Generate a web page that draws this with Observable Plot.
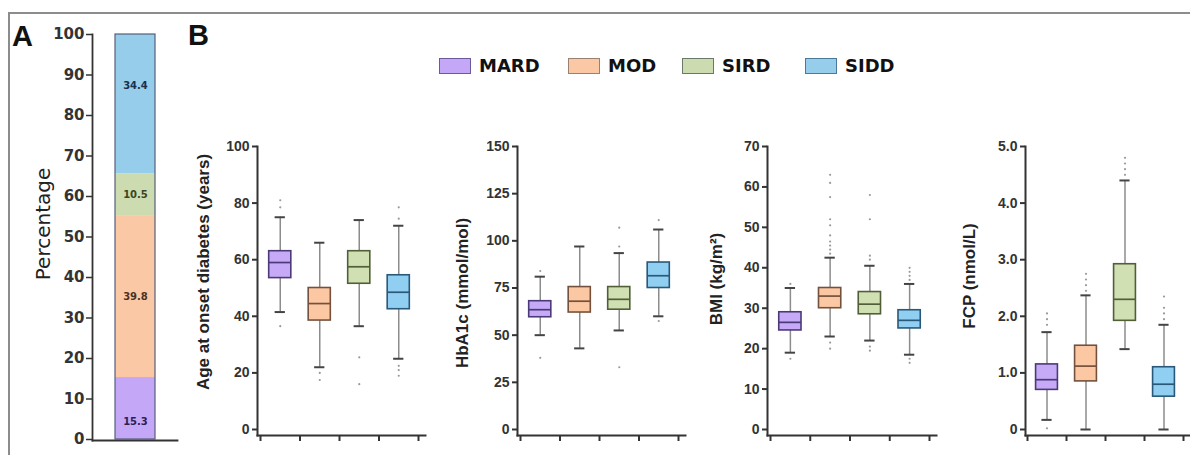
<!DOCTYPE html>
<html><head><meta charset="utf-8">
<script src="https://cdn.jsdelivr.net/npm/d3@7"></script>
<script src="https://cdn.jsdelivr.net/npm/@observablehq/plot@0.6"></script>
<style>
body{margin:0;background:#fff;}
#root{position:relative;width:1190px;height:455px;overflow:hidden;background:#fff;font-family:"Liberation Sans",Arial,sans-serif;}
.frame{position:absolute;left:8px;top:12px;width:1200px;height:460px;border-left:2px solid #8c8c8c;border-top:2px solid #8c8c8c;box-sizing:border-box;}
.letter{position:absolute;font-family:"Liberation Sans",Arial,sans-serif;font-weight:bold;font-size:29px;line-height:1;color:#111;}
.ytitle{position:absolute;white-space:nowrap;transform:translate(-50%,-50%) rotate(-90deg);font-weight:bold;font-size:17px;line-height:1.1;color:#222;}
.sw{position:absolute;width:32px;height:16px;top:58px;box-sizing:border-box;border:1.5px solid;}
.lt{position:absolute;top:55px;font-family:"DejaVu Sans",sans-serif;font-weight:bold;font-size:18px;line-height:22px;color:#111;}
.plot{position:absolute;}
</style></head><body><div id="root"></div>
<script>
// ---------- data ----------
const groups = ["MARD", "MOD", "SIRD", "SIDD"];
const sharePct = [15.3, 39.8, 10.5, 34.4];

// box stats per group: [lower whisker, Q1, median, Q3, upper whisker]
const ageStats = [[41.5, 53.5, 59, 63, 75], [22, 38.5, 44.5, 50, 66], [36.5, 51.5, 57.5, 63, 74], [25, 42.5, 48.5, 54.5, 72]];
const ageOutliers = [[81, 78.5, 36.5], [20, 17.5], [25.5, 16], [78.5, 74.5, 22.5, 21, 19]];
const ageTicks = [0, 20, 40, 60, 80, 100];

const hbStats = [[50, 59.5, 63.5, 68, 81], [43, 62, 68, 75.5, 97], [52.5, 63.5, 69, 75.5, 93.5], [60, 75, 81.5, 88.5, 106]];
const hbOutliers = [[84, 38], [], [107, 97, 33], [111, 57.5]];
const hbTicks = [0, 25, 50, 75, 100, 125, 150];

const bmiStats = [[19, 24.5, 26.5, 29, 35], [23, 30, 33, 35, 42.5], [22, 28.5, 31, 34, 40.5], [18.5, 25, 27, 29.5, 36]];
const bmiOutliers = [[36, 17.5], [63, 61, 57.5, 52, 50.5, 48, 46.5, 45.5, 44.5, 43.5, 21.5, 20], [58, 52, 43, 42, 20.5, 19.5], [40, 39, 38, 37, 17.5, 16.5]];
const bmiTicks = [0, 10, 20, 30, 40, 50, 60, 70];

const fcpStats = [[0.17, 0.7, 0.88, 1.15, 1.72], [0, 0.85, 1.12, 1.48, 2.37], [1.42, 1.92, 2.3, 2.92, 4.4], [0, 0.58, 0.8, 1.1, 1.85]];
const fcpOutliers = [[2.05, 1.95, 1.85, 0.02], [2.75, 2.65, 2.55, 2.45], [4.8, 4.7, 4.6, 4.5], [2.35, 2.15, 2.05, 1.95]];
const fcpTicks = [0, 1, 2, 3, 4, 5];

// ---------- styles ----------
const fills = ["#c6aaf7", "#fcc8a4", "#d0e0b2", "#90cff1"];
const aFills = ["#c4a7f7", "#fbc8a6", "#cddbb0", "#95cdea"];
const strokes = ["#4a3b78", "#74513c", "#505f38", "#2a5878"];
const swatchBorders = ["#6a5a9a", "#9a8070", "#6a7a6a", "#4a7a9a"];
const labelInk = ["#2a1f55", "#4a3322", "#3c4622", "#1d2f4a"];
const labelDy = [13, 0, 0, -18];
const axisInk = "#333";

const root = document.getElementById("root");
function add(html) { root.insertAdjacentHTML("beforeend", html); }
function place(svg, left, top) { svg.classList.add("plot"); svg.style.left = left + "px"; svg.style.top = top + "px"; root.appendChild(svg); }

add('<div class="frame"></div>');
add('<div class="letter" style="left:12px;top:22px">A</div>');
add('<div class="letter" style="left:188px;top:21px">B</div>');

// ---------- Panel A ----------
{
  const tops = d3.cumsum(sharePct);
  const rows = groups.map((g, i) => ({g, i, k: "all", pct: sharePct[i], y1: tops[i] - sharePct[i], y2: tops[i]}));
  const svg = Plot.plot({
    width: 145, height: 430,
    marginLeft: 60, marginRight: 0, marginTop: 14, marginBottom: 10, insetBottom: 1,
    x: {type: "band", domain: ["all"], padding: 0.36, axis: null},
    y: {domain: [0, 100]},
    style: {fontFamily: "DejaVu Sans", fontSize: "15px", fontWeight: "bold", color: axisInk, background: "transparent", overflow: "visible"},
    marks: [
      Plot.barY(rows, {x: "k", y1: "y1", y2: "y2", fill: d => aFills[d.i]}),
      Plot.barY([{k: "all", total: d3.sum(sharePct)}], {x: "k", y: "total", fill: "none", stroke: "#56607a", strokeWidth: 1.2}),
      ...rows.map(r => Plot.text([r], {x: "k", y: d => (d.y1 + d.y2) / 2, text: d => d.pct.toFixed(1), dy: labelDy[r.i], fill: labelInk[r.i], fontSize: 10, fontWeight: "bold", fontFamily: "DejaVu Sans"})),
      Plot.frame({anchor: "left", stroke: axisInk, strokeWidth: 1.8}),
      Plot.frame({anchor: "bottom", stroke: axisInk, strokeWidth: 1.8}),
      Plot.axisY({ticks: d3.range(0, 101, 10), tickSize: 6, tickPadding: 2, label: null, strokeWidth: 1.5, fontWeight: "bold"})
    ]
  });
  place(svg, 32, 20);
}
add('<div class="ytitle" style="left:43px;top:224px;font-family:\'DejaVu Sans\';font-weight:normal;font-size:20px">Percentage</div>');

// ---------- Legend ----------
const legendX = [439, 568, 682, 805];
groups.forEach((g, i) => {
  add(`<div class="sw" style="left:${legendX[i]}px;background:${aFills[i]};border-color:${swatchBorders[i]}"></div>`);
  add(`<div class="lt" style="left:${legendX[i] + 40}px">${g}</div>`);
});

// ---------- Panel B box plots ----------
function boxPanel({stats, outliers, ticks, fmt, axisX, tick0, tick4, title, tx, ty}) {
  const rows = stats.map((s, i) => ({g: groups[i], i, c: i + 0.5, lo: s[0], q1: s[1], med: s[2], q3: s[3], hi: s[4]}));
  const pts = outliers.flatMap((o, i) => o.map(v => ({i, c: i + 0.5, v})));
  const mL = 45;
  const svg = Plot.plot({
    width: mL + (tick4 + 7 - axisX), height: 325,
    marginLeft: mL, marginRight: 0, marginTop: 16, marginBottom: 20,
    insetLeft: tick0 - axisX, insetRight: 7, insetBottom: 6,
    x: {type: "linear", domain: [0, 4]},
    y: {domain: [ticks[0], ticks[ticks.length - 1]]},
    style: {fontFamily: "Liberation Sans, Arial, sans-serif", fontSize: "14px", fontWeight: "bold", color: axisInk, background: "transparent", overflow: "visible"},
    marks: [
      Plot.frame({anchor: "left", stroke: axisInk, strokeWidth: 2}),
      Plot.frame({anchor: "bottom", stroke: axisInk, strokeWidth: 2}),
      Plot.axisY({ticks, tickFormat: fmt, tickSize: 5, tickPadding: 3, label: null, strokeWidth: 2}),
      Plot.axisX({ticks: [0, 1, 2, 3, 4], tickSize: 6, tickFormat: () => "", label: null, strokeWidth: 2}),
      Plot.ruleX(rows, {x: "c", y1: "lo", y2: "hi", stroke: "#8c8c8c", strokeWidth: 1.5}),
      Plot.ruleY(rows, {y: "lo", x1: d => d.c - 0.13, x2: d => d.c + 0.13, stroke: "#444", strokeWidth: 2}),
      Plot.ruleY(rows, {y: "hi", x1: d => d.c - 0.13, x2: d => d.c + 0.13, stroke: "#444", strokeWidth: 2}),
      Plot.rect(rows, {x1: d => d.c - 0.28, x2: d => d.c + 0.28, y1: "q1", y2: "q3", fill: d => fills[d.i], stroke: d => strokes[d.i], strokeWidth: 1.6}),
      Plot.ruleY(rows, {y: "med", x1: d => d.c - 0.28, x2: d => d.c + 0.28, stroke: d => strokes[d.i], strokeWidth: 1.7}),
      Plot.dot(pts, {x: "c", y: "v", r: 1.1, fill: "#9a9a9a", stroke: "none"})
    ]
  });
  place(svg, axisX - mL, 130);
  add(`<div class="ytitle" style="left:${tx}px;top:${ty}px">${title}</div>`);
}

boxPanel({stats: ageStats, outliers: ageOutliers, ticks: ageTicks, fmt: d => String(d), axisX: 257, tick0: 260, tick4: 418, title: "Age at onset diabetes (years)", tx: 204, ty: 272});
boxPanel({stats: hbStats, outliers: hbOutliers, ticks: hbTicks, fmt: d => String(d), axisX: 517, tick0: 520, tick4: 678, title: "HbA1c (mmol/mol)", tx: 463, ty: 293});
boxPanel({stats: bmiStats, outliers: bmiOutliers, ticks: bmiTicks, fmt: d => String(d), axisX: 767, tick0: 770, tick4: 929, title: "BMI (kg/m²)", tx: 717, ty: 279});
boxPanel({stats: fcpStats, outliers: fcpOutliers, ticks: fcpTicks, fmt: d => d === 0 ? "0" : d.toFixed(1), axisX: 1025, tick0: 1027, tick4: 1183, title: "FCP (nmol/L)", tx: 970, ty: 276});
</script></body></html>
